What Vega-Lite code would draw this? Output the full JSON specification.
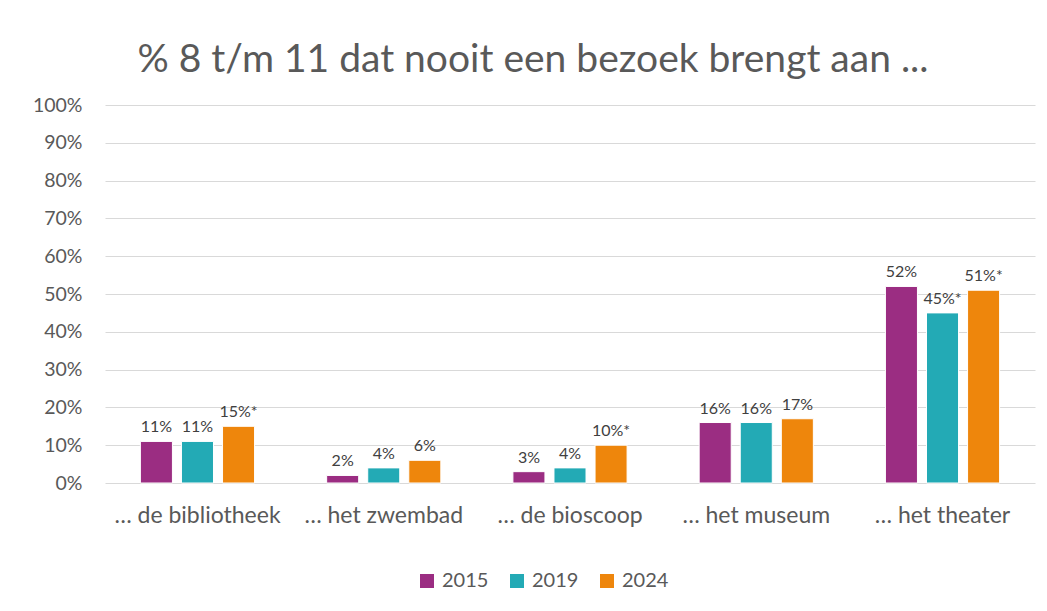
{
  "$schema": "https://vega.github.io/schema/vega-lite/v6.json",
  "autosize": {"type": "none"},
  "width": 930,
  "height": 378,
  "padding": {"left": 105, "top": 105, "right": 12, "bottom": 128},
  "background": "white",
  "title": {
    "text": "% 8 t/m 11 dat nooit een bezoek brengt aan ...",
    "font": "Lato",
    "fontSize": 39,
    "fontWeight": "normal",
    "color": "#595959",
    "anchor": "middle",
    "frame": "group",
    "dx": -37,
    "offset": 15
  },
  "data": {
    "values": [
      {"plek": "… de bibliotheek", "jaar": "2015", "pct": 11, "label": "11%"},
      {"plek": "… de bibliotheek", "jaar": "2019", "pct": 11, "label": "11%"},
      {"plek": "… de bibliotheek", "jaar": "2024", "pct": 15, "label": "15%*"},
      {"plek": "… het zwembad", "jaar": "2015", "pct": 2, "label": "2%"},
      {"plek": "… het zwembad", "jaar": "2019", "pct": 4, "label": "4%"},
      {"plek": "… het zwembad", "jaar": "2024", "pct": 6, "label": "6%"},
      {"plek": "… de bioscoop", "jaar": "2015", "pct": 3, "label": "3%"},
      {"plek": "… de bioscoop", "jaar": "2019", "pct": 4, "label": "4%"},
      {"plek": "… de bioscoop", "jaar": "2024", "pct": 10, "label": "10%*"},
      {"plek": "… het museum", "jaar": "2015", "pct": 16, "label": "16%"},
      {"plek": "… het museum", "jaar": "2019", "pct": 16, "label": "16%"},
      {"plek": "… het museum", "jaar": "2024", "pct": 17, "label": "17%"},
      {"plek": "… het theater", "jaar": "2015", "pct": 52, "label": "52%"},
      {"plek": "… het theater", "jaar": "2019", "pct": 45, "label": "45%*"},
      {"plek": "… het theater", "jaar": "2024", "pct": 51, "label": "51%*"}
    ]
  },
  "encoding": {
    "x": {
      "field": "plek",
      "type": "nominal",
      "sort": null,
      "scale": {"paddingInner": 0.387, "paddingOuter": 0.19},
      "axis": {
        "title": null,
        "labelAngle": 0,
        "labelFont": "Lato",
        "labelFontSize": 23,
        "labelColor": "#595959",
        "labelPadding": 21,
        "ticks": false,
        "domain": false,
        "grid": false
      }
    },
    "xOffset": {
      "field": "jaar",
      "type": "nominal",
      "scale": {"paddingInner": 0.22, "paddingOuter": 0}
    },
    "y": {
      "field": "pct",
      "type": "quantitative",
      "scale": {"domain": [0, 100]},
      "axis": {
        "title": null,
        "values": [0, 10, 20, 30, 40, 50, 60, 70, 80, 90, 100],
        "labelExpr": "datum.value + '%'",
        "labelFont": "Lato",
        "labelFontSize": 19.5,
        "labelColor": "#595959",
        "labelPadding": 23,
        "ticks": false,
        "domain": false,
        "grid": true,
        "gridColor": "#D9D9D9",
        "gridWidth": 1.2
      }
    },
    "color": {
      "field": "jaar",
      "type": "nominal",
      "scale": {"domain": ["2015", "2019", "2024"], "range": ["#9B2D82", "#23AAB5", "#EE860C"]},
      "legend": {
        "title": null,
        "orient": "none",
        "legendX": 312,
        "legendY": 466,
        "direction": "horizontal",
        "symbolType": "square",
        "symbolSize": 196,
        "symbolStrokeWidth": 0,
        "labelFont": "Lato",
        "labelFontSize": 20,
        "labelColor": "#595959",
        "columnPadding": 18,
        "labelOffset": 5
      }
    }
  },
  "layer": [
    {"mark": {"type": "bar", "stroke": "white", "strokeWidth": 1}},
    {
      "mark": {"type": "text", "baseline": "bottom", "dy": -6, "font": "Lato", "fontSize": 16, "color": "#404040"},
      "encoding": {"text": {"field": "label"}, "color": {"value": "#404040"}}
    }
  ],
  "config": {"view": {"stroke": null}}
}
